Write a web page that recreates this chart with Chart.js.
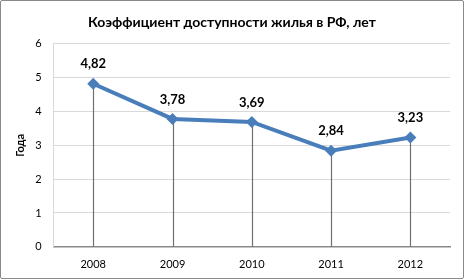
<!DOCTYPE html>
<html>
<head>
<meta charset="utf-8">
<script src="https://cdn.jsdelivr.net/npm/chart.js@4.4.0/dist/chart.umd.min.js"></script>
<style>
  html, body { margin: 0; padding: 0; background: #fff; }
  #wrap { position: absolute; left: 0; top: 0; width: 462px; height: 277px; border: 1px solid #8a8a8a; border-radius: 2px; }
  canvas { display: block; }
</style>
</head>
<body>
<div id="wrap"><canvas id="chart" width="462" height="277"></canvas></div>
<script>
var years = ['2008', '2009', '2010', '2011', '2012'];
var ratio = [4.82, 3.78, 3.69, 2.84, 3.23];
var yTicks = [0, 1, 2, 3, 4, 5, 6];

// vertical drop lines from each point down to the axis + value labels
var dropLines = {
    id: 'dropLines',
    beforeDatasetsDraw: function (chart) {
        var ctx = chart.ctx;
        var meta = chart.getDatasetMeta(0);
        var yScale = chart.scales.y;
        ctx.save();
        ctx.strokeStyle = '#707070';
        ctx.lineWidth = 1.2;
        meta.data.forEach(function (pt) {
            ctx.beginPath();
            ctx.moveTo(Math.round(pt.x) + 0.5, pt.y);
            ctx.lineTo(Math.round(pt.x) + 0.5, yScale.getPixelForValue(0));
            ctx.stroke();
        });
        ctx.restore();
    },
    afterDatasetsDraw: function (chart) {
        var ctx = chart.ctx;
        var meta = chart.getDatasetMeta(0);
        ctx.save();
        ctx.font = 'bold 13px Lato';
        ctx.fillStyle = '#000';
        ctx.textAlign = 'center';
        ctx.textBaseline = 'bottom';
        meta.data.forEach(function (pt, i) {
            ctx.fillText(ratio[i].toFixed(2).replace('.', ','), pt.x, pt.y - 13);
        });
        ctx.restore();
    }
};

var ctx = document.getElementById('chart').getContext('2d');
new Chart(ctx, {
    type: 'line',
    data: {
        labels: years,
        datasets: [{
            data: ratio,
            borderColor: '#4a7ebb',
            backgroundColor: '#4a7ebb',
            borderWidth: 4,
            tension: 0,
            pointStyle: 'rectRot',
            pointRadius: 6,
            pointBorderWidth: 0
        }]
    },
    options: {
        responsive: false,
        animation: false,
        layout: { padding: { left: 13, right: 13, top: 4, bottom: 4 } },
        plugins: {
            legend: { display: false },
            tooltip: { enabled: false },
            title: {
                display: true,
                text: 'Коэффициент доступности жилья в РФ, лет',
                color: '#000',
                font: { family: 'Lato', size: 14, weight: 'bold' },
                padding: { top: 9, bottom: 13 }
            }
        },
        scales: {
            x: {
                offset: true,
                grid: { display: false },
                border: { color: '#8a8a8a', width: 1.5 },
                ticks: { color: '#000', font: { family: 'Lato', size: 11 }, padding: 3 }
            },
            y: {
                min: 0,
                max: 6,
                afterBuildTicks: function (axis) {
                    axis.ticks = yTicks.map(function (v) { return { value: v }; });
                },
                grid: { color: '#d9d9d9', drawTicks: false },
                border: { color: '#d9d9d9' },
                ticks: { color: '#000', font: { family: 'Lato', size: 11 }, padding: 12 },
                title: {
                    display: true,
                    text: 'Года',
                    color: '#000',
                    font: { family: 'Lato', size: 11, weight: 'bold' },
                    padding: { top: 0, bottom: -4 }
                }
            }
        }
    },
    plugins: [dropLines]
});
</script>
</body>
</html>
